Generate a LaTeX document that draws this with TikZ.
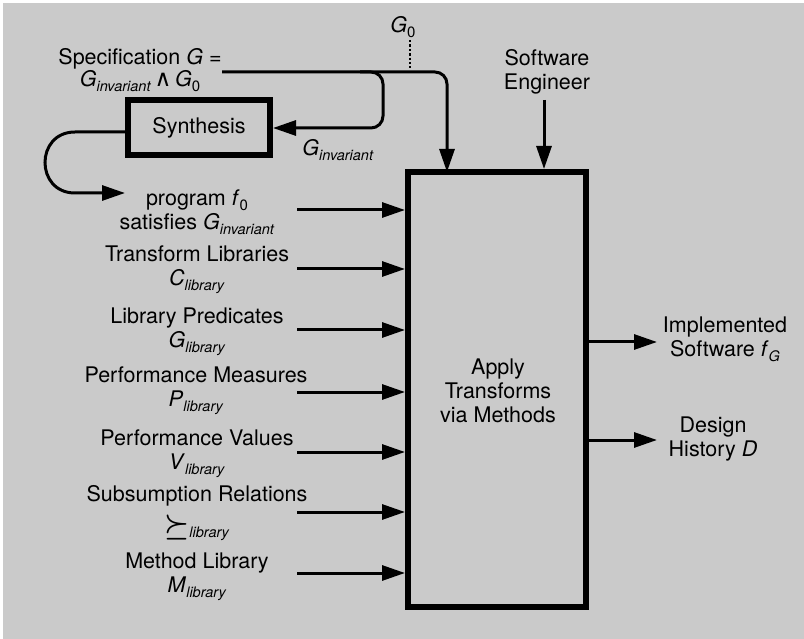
\documentclass[tikz,border=0pt]{standalone}
\usepackage{fontspec}
\setmainfont{TeX Gyre Heros}
\newfontfamily\djv{DejaVu Sans}
\usetikzlibrary{arrows.meta}
\definecolor{bg}{RGB}{202,202,202}
\newcommand\vsub[2]{\textit{#1}\raisebox{-0.45ex}{\fontsize{14.5}{14.5}\selectfont\textit{#2}}}
\newcommand\zsub[2]{\textit{#1}\raisebox{-0.45ex}{\fontsize{15}{15}\selectfont #2}}
\begin{document}
\begin{tikzpicture}[x=1pt,y=-1pt,
  lbl/.style={align=center,inner sep=0pt,font=\fontsize{21.5}{24}\selectfont},
  arr/.style={line width=3pt,-{Triangle[length=23pt,width=15pt]}},
  bigbox/.style={draw,line width=6pt,minimum width=178pt,minimum height=435pt,inner sep=0pt},
  synbox/.style={draw,line width=6pt,minimum width=142pt,minimum height=55pt,inner sep=0pt,font=\fontsize{21.5}{26}\selectfont}]
\useasboundingbox (0,0) rectangle (804,639);
\fill[white] (0,0) rectangle (804,639);
\fill[bg] (3,3) rectangle (804,639);

% main box
\node[bigbox] (apply) at (497,389.5) {};
\node[lbl] (applytxt) at (498,391) {Apply\\Transforms\\via Methods};

% synthesis
\node[synbox] (synth) at (199,128) {Synthesis};

% specification
\node[lbl,font=\fontsize{21.5}{20}\selectfont] (spec) at (140,70) {Specification \textit{G} =\\\vsub{G}{invariant}\,{\djv\fontsize{23}{23}\selectfont ∧}\,\zsub{G}{0}};
\coordinate (specout) at (222,72);
\coordinate (split) at (360,72);
\draw[arr,rounded corners=12pt] (specout) -- (447,72) -- (447,172);
\draw[arr,rounded corners=12pt] (split) -- (383,72) -- (383,128) -- (synth.east);
\node[lbl] (ginv) at (338,150) {\vsub{G}{invariant}};

% G0 dotted
\node[lbl] (g0) at (403,27) {\zsub{G}{0}};
\coordinate (g0a) at (410,40);
\coordinate (g0b) at (410,68);
\draw[line width=2.4pt,dotted] (g0a) -- (g0b);

% synthesis output loop
\coordinate (loopa) at (75,132);
\coordinate (loopb) at (75,193);
\coordinate (loopend) at (125,193);
\draw[arr] (synth.west |- loopa) -- (loopa) .. controls (35,132) and (35,193) .. (loopb) -- (loopend);

% software engineer
\node[lbl] (se) at (547,72) {Software\\Engineer};
\coordinate (sea) at (544,100);
\draw[arr] (sea) -- (sea |- apply.north);

% inputs
\node[lbl] (in1) at (197,212) {program \zsub{f}{0}\\satisfies \vsub{G}{invariant}};
\coordinate (a1) at (297,210);
\draw[arr] (a1) -- (a1 -| apply.west);

\node[lbl] (in2) at (197,270) {Transform Libraries\\\vsub{C}{library}};
\coordinate (a2) at (297,269);
\draw[arr] (a2) -- (a2 -| apply.west);

\node[lbl] (in3) at (197,332) {Library Predicates\\\vsub{G}{library}};
\coordinate (a3) at (297,330);
\draw[arr] (a3) -- (a3 -| apply.west);

\node[lbl] (in4) at (196,391) {Performance Measures\\\vsub{P}{library}};
\coordinate (a4) at (297,392);
\draw[arr] (a4) -- (a4 -| apply.west);

\node[lbl] (in5) at (197,454) {Performance Values\\\vsub{V}{library}};
\coordinate (a5) at (297,452);
\draw[arr] (a5) -- (a5 -| apply.west);

\node[lbl] (in6a) at (197,496) {Subsumption Relations};
\node[lbl] (in6b) at (197,528) {\raisebox{-0.2ex}{\scalebox{1.35}{\boldmath$\succeq$}}\raisebox{-0.45ex}{\fontsize{14.5}{14.5}\selectfont\textit{library}}};
\coordinate (a6) at (297,512);
\draw[arr] (a6) -- (a6 -| apply.west);

\node[lbl] (in7) at (197,577) {Method Library\\\vsub{M}{library}};
\coordinate (a7) at (297,573);
\draw[arr] (a7) -- (a7 -| apply.west);

% outputs
\coordinate (o1) at (657,342);
\coordinate (o2) at (657,440);
\draw[arr] (apply.east |- o1) -- (o1);
\draw[arr] (apply.east |- o2) -- (o2);
\node[lbl] (out1) at (725,339) {Implemented\\Software \vsub{f}{G}};
\node[lbl] (out2) at (713,439) {Design\\History \textit{D}};
\end{tikzpicture}
\end{document}
